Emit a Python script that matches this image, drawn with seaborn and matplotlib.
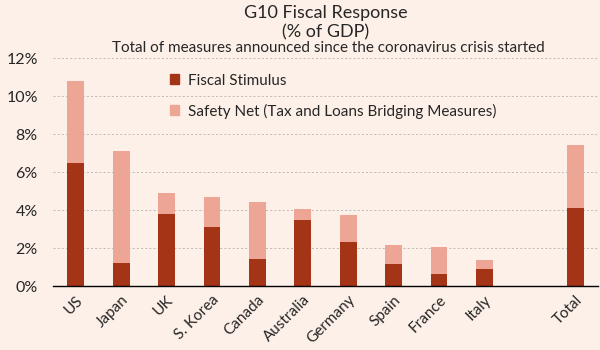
import pandas as pd
import numpy as np
import seaborn as sns
import matplotlib.pyplot as plt
from matplotlib.ticker import FuncFormatter

# Данные (% ВВП)
countries = ["US", "Japan", "UK", "S. Korea", "Canada", "Australia",
             "Germany", "Spain", "France", "Italy", " ", "Total"]
fiscal_stimulus = [6.5, 1.2, 3.8, 3.1, 1.4, 3.5, 2.3, 1.15, 0.65, 0.9, np.nan, 4.1]
safety_net = [4.3, 5.9, 1.1, 1.6, 3.0, 0.55, 1.45, 1.0, 1.4, 0.45, np.nan, 3.3]

df = pd.DataFrame({"country": countries,
                   "stimulus": fiscal_stimulus,
                   "safety": safety_net})
df["total"] = df["stimulus"] + df["safety"]

bg = "#FDF0E8"
dark = "#A33416"
light = "#EDA596"

sns.set_theme(style="white")
plt.rcParams["font.family"] = ["Lato", "DejaVu Sans"]

fig = plt.figure(figsize=(6, 3.5), dpi=100, facecolor=bg)
ax = fig.add_axes([53 / 600, 1 - 286 / 350, 545 / 600, 228 / 350], facecolor=bg)

# Сначала полная высота (светлая), затем фискальный стимул (тёмный) поверх
sns.barplot(data=df, x="country", y="total", order=countries, color=light,
            width=0.37, saturation=1, linewidth=0, ax=ax, zorder=3)
sns.barplot(data=df, x="country", y="stimulus", order=countries, color=dark,
            width=0.37, saturation=1, linewidth=0, ax=ax, zorder=3)

ax.set_ylim(0, 12)
ax.set_xlim(-0.5, 11.5)
ax.set_yticks(range(0, 13, 2))
ax.yaxis.set_major_formatter(FuncFormatter(lambda v, p: f"{v:.0f}%"))
ax.grid(axis="y", linestyle=(0, (3, 3)), color="#a8a8a8", linewidth=0.5, zorder=0)
ax.set_xlabel("")
ax.set_ylabel("")
for s in ["top", "right", "left"]:
    ax.spines[s].set_visible(False)
ax.spines["bottom"].set_color("black")
ax.spines["bottom"].set_linewidth(1.0)
ax.spines["bottom"].set_zorder(4)
ax.tick_params(axis="y", length=0, labelsize=11.5, pad=11)
ax.tick_params(axis="x", length=0, labelsize=11, pad=5)
for lab in ax.get_xticklabels():
    lab.set_rotation(45)
    lab.set_ha("right")
    lab.set_rotation_mode("anchor")

handles = [plt.Rectangle((0, 0), 1, 1, color=dark),
           plt.Rectangle((0, 0), 1, 1, color=light)]
ax.legend(handles, ["Fiscal Stimulus", "Safety Net (Tax and Loans Bridging Measures)"],
          loc="upper left", bbox_to_anchor=(0.2, 0.965), frameon=False,
          fontsize=11, handlelength=0.6, handleheight=0.6, handletextpad=0.6,
          labelspacing=1.05, borderpad=0)

fig.text(0.5425, 1 - 13 / 350, "G10 Fiscal Response", ha="center", va="center", fontsize=13)
fig.text(0.5425, 1 - 32 / 350, "(% of GDP)", ha="center", va="center", fontsize=13)
fig.text(0.5475, 1 - 48 / 350, "Total of measures announced since the coronavirus crisis started",
         ha="center", va="center", fontsize=11)

plt.savefig("out.png", dpi=100, facecolor=bg)
